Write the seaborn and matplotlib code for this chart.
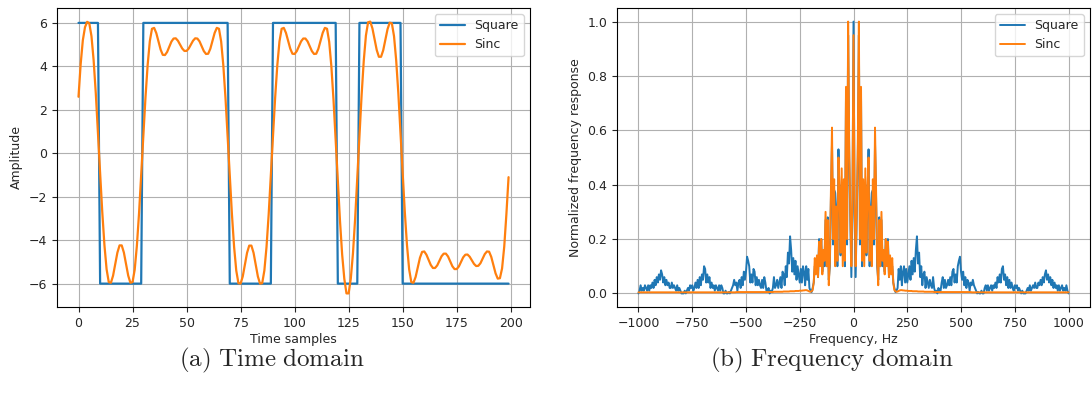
import numpy as np
import pandas as pd
import matplotlib
matplotlib.use("Agg")
import matplotlib.pyplot as plt
import seaborn as sns

# Time domain: square wave as levels and run lengths (200 samples)
square_levels = [6, -6, 6, -6, 6, -6, 6, -6]
square_runs = [10, 20, 40, 20, 30, 10, 20, 50]

# Sinc (band-limited) version of the square wave, one value per sample
sinc_vals = [
    2.6, 4.1, 5.2, 5.8, 6.05, 5.98, 5.39, 4.28, 2.76, 0.97,
    -0.91, -2.71, -4.23, -5.34, -5.93, -5.96, -5.63, -5.1, -4.57, -4.24,
    -4.24, -4.57, -5.1, -5.63, -5.96, -5.93, -5.36, -4.27, -2.78, -1.02,
    0.82, 2.58, 4.07, 5.16, 5.73, 5.77, 5.53, 5.15, 4.77, 4.53,
    4.52, 4.66, 4.9, 5.14, 5.28, 5.29, 5.18, 5.0, 4.82, 4.71,
    4.71, 4.82, 5.0, 5.18, 5.29, 5.28, 5.15, 4.93, 4.70, 4.57,
    4.58, 4.81, 5.18, 5.54, 5.77, 5.73, 5.15, 4.06, 2.57, 0.80,
    -1.05, -2.81, -4.31, -5.40, -5.98, -6.0, -5.67, -5.13, -4.58, -4.25,
    -4.25, -4.58, -5.13, -5.67, -6.0, -5.98, -5.40, -4.31, -2.81, -1.05,
    0.80, 2.57, 4.06, 5.15, 5.73, 5.77, 5.54, 5.18, 4.81, 4.58,
    4.57, 4.70, 4.93, 5.15, 5.28, 5.28, 5.15, 4.93, 4.70, 4.57,
    4.58, 4.81, 5.18, 5.54, 5.77, 5.73, 5.13, 4.01, 2.46, 0.63,
    -1.28, -3.11, -4.66, -5.78, -6.45, -6.45, -5.77, -4.61, -3.02, -1.15,
    0.80, 2.67, 4.26, 5.42, 6.03, 6.06, 5.75, 5.25, 4.75, 4.44,
    4.44, 4.74, 5.23, 5.71, 6.01, 5.98, 5.39, 4.28, 2.76, 0.97,
    -0.91, -2.71, -4.23, -5.34, -5.93, -5.96, -5.69, -5.25, -4.81, -4.54,
    -4.52, -4.67, -4.9, -5.14, -5.28, -5.28, -5.16, -4.95, -4.74, -4.62,
    -4.62, -4.75, -4.98, -5.20, -5.33, -5.33, -5.21, -5.0, -4.79, -4.67,
    -4.66, -4.76, -4.93, -5.09, -5.19, -5.18, -5.06, -4.85, -4.64, -4.52,
    -4.53, -4.77, -5.15, -5.53, -5.77, -5.75, -5.3, -4.3, -2.8, -1.1,
]

# Frequency domain: spectrum is symmetric, so only 0..1000 Hz (5 Hz step) is kept
square_spec_pos = [
    1.0, 0.3, 0.06, 0.28, 0.5, 0.95, 0.18, 0.72, 0.1, 0.37,
    0.37, 0.4, 0.14, 0.35, 0.53, 0.1, 0.3, 0.37, 0.38, 0.18,
    0.55, 0.35, 0.1, 0.05, 0.28, 0.1, 0.27, 0.1, 0.15, 0.08,
    0.2, 0.12, 0.2, 0.06, 0.12, 0.08, 0.1, 0.04, 0.02, 0.005,
    0.01,
    0.02, 0.09, 0.05, 0.1, 0.03, 0.08, 0.1, 0.04, 0.09, 0.04,
    0.07, 0.1, 0.05, 0.12, 0.07, 0.13, 0.08, 0.16, 0.21, 0.11,
    0.15, 0.06, 0.1, 0.03, 0.07, 0.08, 0.02, 0.06, 0.04, 0.02,
    0.05, 0.03, 0.02, 0.06, 0.02, 0.005, 0.01, 0.0, 0.02, 0.01,
    0.01, 0.04, 0.06, 0.02, 0.05, 0.02, 0.03, 0.05, 0.03, 0.06,
    0.03, 0.08, 0.09, 0.04, 0.07, 0.04, 0.1, 0.12, 0.135, 0.08,
    0.05, 0.08, 0.03, 0.06, 0.02, 0.05, 0.04, 0.01, 0.04, 0.03,
    0.05, 0.03, 0.02, 0.01, 0.0, 0.005, 0.0, 0.0, 0.01, 0.0,
    0.0, 0.02, 0.03, 0.01, 0.03, 0.01, 0.02, 0.03, 0.01, 0.03,
    0.02, 0.04, 0.02, 0.06, 0.04, 0.07, 0.04, 0.09, 0.1, 0.05,
    0.07, 0.03, 0.06, 0.02, 0.05, 0.02, 0.04, 0.02, 0.01, 0.03,
    0.02, 0.03, 0.01, 0.02, 0.01, 0.0, 0.01, 0.0, 0.0, 0.0,
    0.01, 0.02, 0.01, 0.03, 0.01, 0.02, 0.03, 0.02, 0.04, 0.02,
    0.02, 0.04, 0.03, 0.05, 0.03, 0.06, 0.04, 0.07, 0.085, 0.05,
    0.07, 0.04, 0.06, 0.03, 0.05, 0.02, 0.04, 0.02, 0.03, 0.01,
    0.03, 0.01, 0.02, 0.03, 0.01, 0.02, 0.01, 0.03, 0.01, 0.0,
]

sinc_spec_pos = [
    0.95, 0.35, 0.1, 0.3, 0.55, 1.0, 0.2, 0.76, 0.12, 0.42,
    0.1, 0.46, 0.15, 0.38, 0.5, 0.12, 0.32, 0.1, 0.42, 0.2,
    0.61, 0.38, 0.12, 0.03, 0.27, 0.1, 0.3, 0.12, 0.16, 0.07,
    0.2, 0.1, 0.19, 0.06, 0.14, 0.07, 0.13, 0.04, 0.012, 0.008,
    0.006, 0.007, 0.009, 0.011, 0.012, 0.012, 0.011, 0.011, 0.010, 0.010,
    0.010, 0.009, 0.009, 0.009, 0.009, 0.008, 0.008, 0.008, 0.008, 0.008,
    0.007, 0.007, 0.007, 0.007, 0.007, 0.007, 0.006, 0.006, 0.006, 0.006,
    0.006, 0.006, 0.006, 0.006, 0.006, 0.005, 0.005, 0.005, 0.005, 0.005,
    0.005, 0.005, 0.005, 0.005, 0.005, 0.005, 0.005, 0.005, 0.005, 0.005,
    0.005, 0.005, 0.005, 0.005, 0.005, 0.005, 0.005, 0.005, 0.005, 0.005,
    0.005, 0.005, 0.005, 0.005, 0.005, 0.005, 0.005, 0.005, 0.005, 0.005,
    0.004, 0.004, 0.004, 0.004, 0.004, 0.004, 0.004, 0.004, 0.004, 0.004,
    0.004, 0.004, 0.004, 0.004, 0.004, 0.004, 0.004, 0.004, 0.004, 0.004,
    0.004, 0.004, 0.004, 0.004, 0.004, 0.004, 0.004, 0.004, 0.004, 0.004,
    0.004, 0.004, 0.004, 0.004, 0.004, 0.004, 0.004, 0.004, 0.004, 0.004,
    0.004, 0.004, 0.004, 0.004, 0.004, 0.004, 0.004, 0.004, 0.004, 0.004,
    0.004, 0.004, 0.004, 0.004, 0.004, 0.004, 0.004, 0.004, 0.004, 0.004,
    0.004, 0.004, 0.004, 0.004, 0.004, 0.004, 0.004, 0.004, 0.004, 0.004,
    0.004, 0.004, 0.004, 0.004, 0.004, 0.004, 0.004, 0.004, 0.004, 0.004,
    0.004, 0.004, 0.004, 0.004, 0.004, 0.004, 0.004, 0.004, 0.004, 0.004,
    0.004,
]

# build the plotted series
samples = np.arange(len(sinc_vals))
square = np.repeat(square_levels, square_runs)
freq_pos = np.arange(0, 1001, 5)
freqs = np.concatenate([-freq_pos[:0:-1], freq_pos])
square_spec = np.concatenate([square_spec_pos[:0:-1], square_spec_pos])
sinc_spec = np.concatenate([sinc_spec_pos[:0:-1], sinc_spec_pos])

time_df = pd.DataFrame({"Time samples": samples, "Square": square, "Sinc": sinc_vals})
freq_df = pd.DataFrame({"Frequency, Hz": freqs, "Square": square_spec, "Sinc": sinc_spec})

sns.set_style("ticks")
plt.rcParams["font.family"] = ["DejaVu Sans"]
plt.rcParams["mathtext.fontset"] = "cm"
plt.rcParams["xtick.major.size"] = 3.5
plt.rcParams["ytick.major.size"] = 3.5

blue, orange = "#1f77b4", "#ff7f0e"

fig = plt.figure(figsize=(10.92, 4.0), dpi=100)
ax1 = fig.add_axes([0.0522, 0.2325, 0.4332, 0.7475])
ax2 = fig.add_axes([0.565, 0.2325, 0.4332, 0.7475])

# (a) time domain
sns.lineplot(data=time_df, x="Time samples", y="Square", ax=ax1, color=blue, lw=1.6, label="Square")
sns.lineplot(data=time_df, x="Time samples", y="Sinc", ax=ax1, color=orange, lw=1.6, label="Sinc")
ax1.set_xlabel("Time samples", fontsize=9, labelpad=2)
ax1.set_ylabel("Amplitude", fontsize=9)
ax1.set_xticks([0, 25, 50, 75, 100, 125, 150, 175, 200])
ax1.set_yticks([-6, -4, -2, 0, 2, 4, 6])

# (b) frequency domain
sns.lineplot(data=freq_df, x="Frequency, Hz", y="Square", ax=ax2, color=blue, lw=1.4, label="Square")
sns.lineplot(data=freq_df, x="Frequency, Hz", y="Sinc", ax=ax2, color=orange, lw=1.4, label="Sinc")
ax2.set_xlabel("Frequency, Hz", fontsize=9, labelpad=2)
ax2.set_ylabel("Normalized frequency response", fontsize=9)
ax2.set_xticks([-1000, -750, -500, -250, 0, 250, 500, 750, 1000])
ax2.set_yticks([0.0, 0.2, 0.4, 0.6, 0.8, 1.0])

for ax in (ax1, ax2):
    ax.grid(True, color="#b0b0b0", lw=0.8)
    ax.tick_params(labelsize=9, width=0.8)
    for s in ax.spines.values():
        s.set_linewidth(0.8)
        s.set_color("black")
    ax.legend(loc="upper right", fontsize=9, frameon=True, edgecolor="0.8", framealpha=0.8)

fig.text(0.249, 0.098, r"$\mathrm{(a)\ Time\ domain}$", ha="center", va="center", fontsize=18)
fig.text(0.762, 0.098, r"$\mathrm{(b)\ Frequency\ domain}$", ha="center", va="center", fontsize=18)

fig.savefig("out.png", dpi=100)
